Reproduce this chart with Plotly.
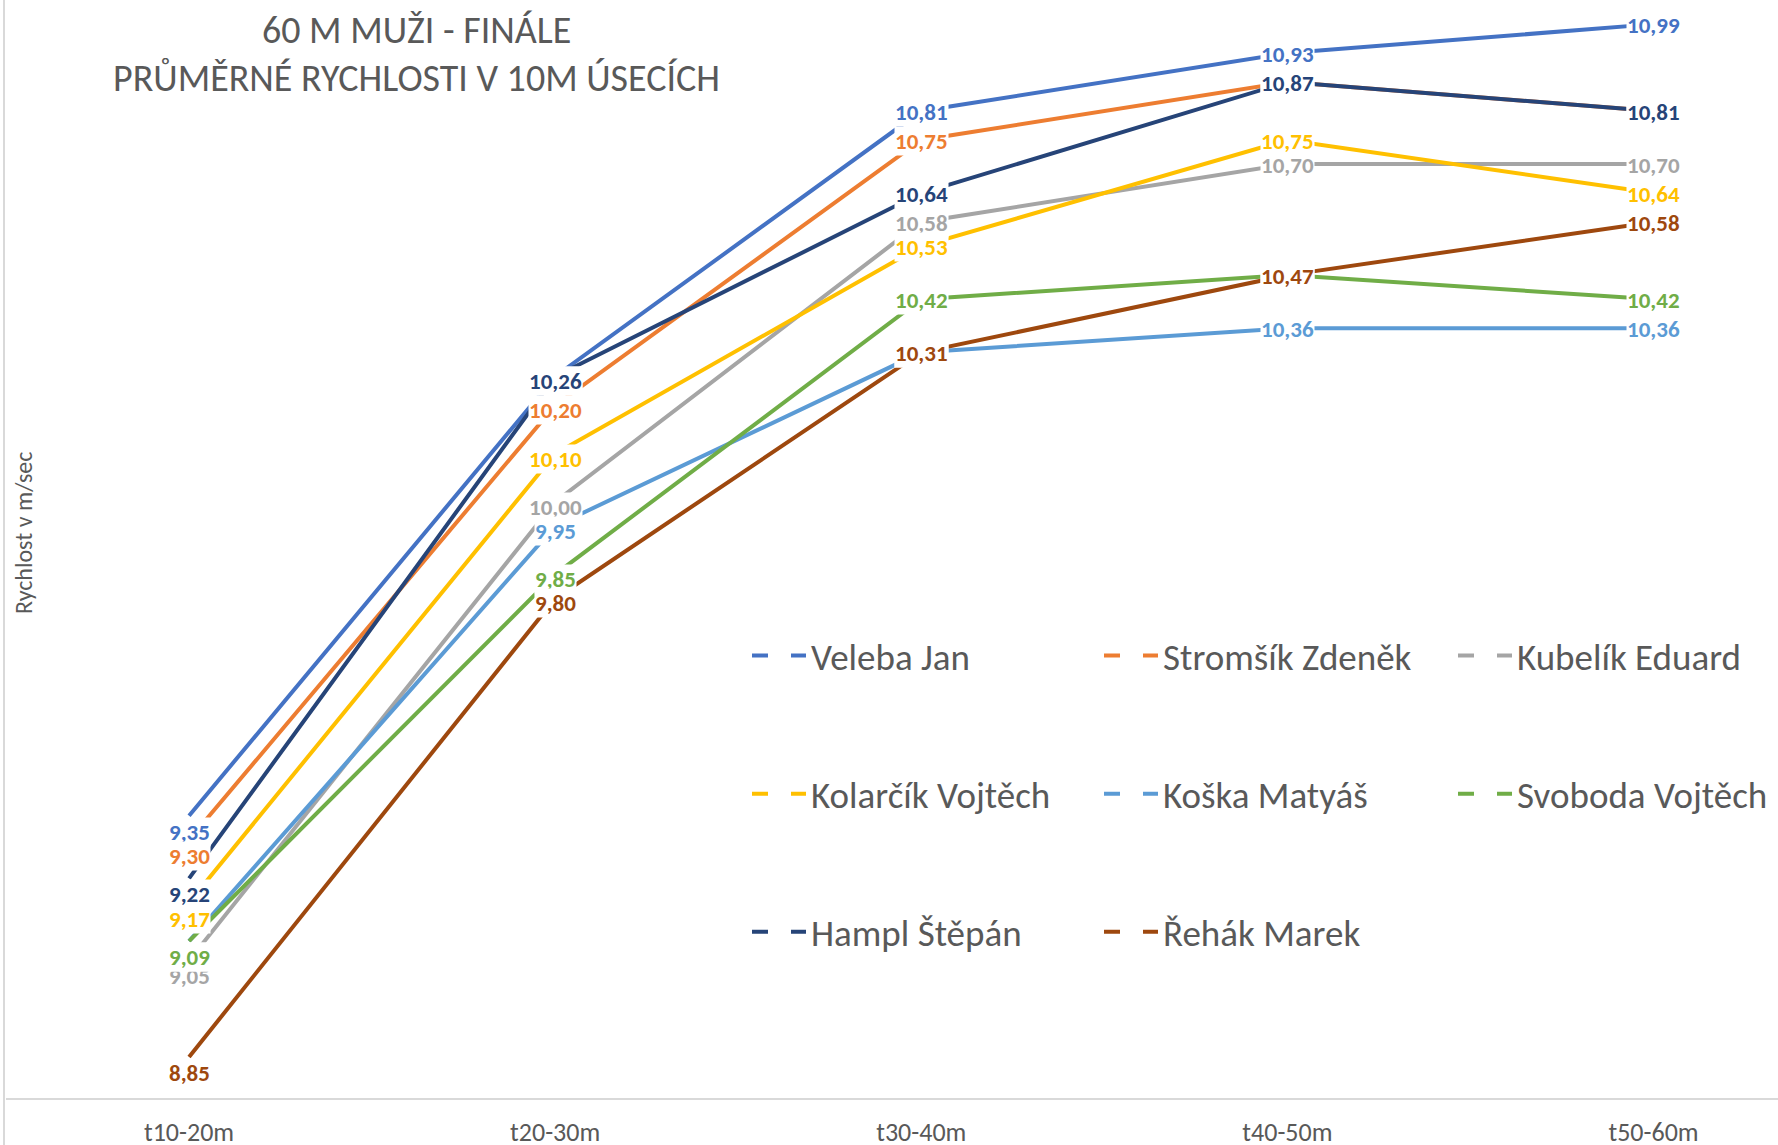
import plotly.graph_objects as go

categories = ["t10-20m", "t20-30m", "t30-40m", "t40-50m", "t50-60m"]

athletes = ["Veleba Jan", "Stromšík Zdeněk", "Kubelík Eduard", "Kolarčík Vojtěch",
            "Koška Matyáš", "Svoboda Vojtěch", "Hampl Štěpán", "Řehák Marek"]

veleba = [9.35, 10.26, 10.81, 10.93, 10.99]
stromsik = [9.30, 10.20, 10.75, 10.87, 10.81]
kubelik = [9.05, 10.00, 10.58, 10.70, 10.70]
kolarcik = [9.17, 10.10, 10.53, 10.75, 10.64]
koska = [9.09, 9.95, 10.31, 10.36, 10.36]
svoboda = [9.09, 9.85, 10.42, 10.47, 10.42]
hampl = [9.22, 10.26, 10.64, 10.87, 10.81]
rehak = [8.85, 9.80, 10.31, 10.47, 10.58]

series = [veleba, stromsik, kubelik, kolarcik, koska, svoboda, hampl, rehak]
colors = ["#4472C4", "#ED7D31", "#A5A5A5", "#FFC000",
          "#5B9BD5", "#70AD47", "#264478", "#9E480E"]

FONT = "Calibri, Carlito, Lato, sans-serif"
GREY = "#595959"

W, H = 1778, 1145
ML, MR, MT, MB = 6, 0, 0, 47
PW = W - ML - MR
PH = H - MT - MB

fig = go.Figure()

for name, vals, col in zip(athletes, series, colors):
    fig.add_trace(go.Scatter(x=categories, y=vals, mode="lines", name=name,
                             line=dict(color=col, width=4), showlegend=False,
                             hoverinfo="skip"))

# legend columns (Excel lays the legend out row by row in 3 columns)
legend_ids = ["legend", "legend2", "legend3", "legend", "legend2", "legend3", "legend", "legend2"]
for k, (name, col, lg) in enumerate(zip(athletes, colors, legend_ids)):
    fig.add_trace(go.Scatter(x=[None], y=[None], mode="lines", name=name,
                             line=dict(color=col, width=4, dash="16px,23px"),
                             legend=lg, legendgroup="g%d" % k, showlegend=True))

label_shift = [-16, -5, -1, -1, -1]
annotations = []
for name, vals, col in zip(athletes, series, colors):
    for i, (c, v) in enumerate(zip(categories, vals)):
        annotations.append(dict(
            x=c, y=v, xref="x", yref="y", text="<b>" + f"{v:.2f}".replace(".", ",") + "</b>",
            showarrow=False, font=dict(family=FONT, size=23, color=col),
            bgcolor="white", borderpad=0, yshift=label_shift[i],
        ))

def py(p):
    return (H - MB - p) / PH

def px(p):
    return (p - ML) / PW

annotations += [
    dict(text="60 M MUŽI - FINÁLE", x=px(416), y=py(30), xref="paper", yref="paper",
         showarrow=False, font=dict(family=FONT, size=38, color=GREY), xanchor="center", yanchor="middle"),
    dict(text="PRŮMĚRNÉ RYCHLOSTI V 10M ÚSECÍCH", x=px(416), y=py(78), xref="paper", yref="paper",
         showarrow=False, font=dict(family=FONT, size=38, color=GREY), xanchor="center", yanchor="middle"),
    dict(text="Rychlost v m/sec", x=px(23), y=py(533), xref="paper", yref="paper", textangle=-90,
         showarrow=False, font=dict(family=FONT, size=24, color=GREY), xanchor="center", yanchor="middle"),
]

legend_common = dict(orientation="v", font=dict(family=FONT, size=37, color=GREY),
                     itemwidth=54, tracegroupgap=87, xanchor="left", yanchor="top",
                     bgcolor="rgba(0,0,0,0)", y=py(625))

fig.update_layout(
    width=W, height=H,
    margin=dict(l=ML, r=MR, t=MT, b=MB, autoexpand=False),
    paper_bgcolor="white", plot_bgcolor="white",
    annotations=annotations,
    legend=dict(**legend_common, x=px(747)),
    legend2=dict(**legend_common, x=px(1099)),
    legend3=dict(**legend_common, x=px(1453)),
    xaxis=dict(range=[-0.5, 4.34], showgrid=False, zeroline=False, showline=True,
               linecolor="#D9D9D9", linewidth=2, ticks="", ticklabelstandoff=10,
               tickfont=dict(family=FONT, size=26, color=GREY)),
    yaxis=dict(range=[8.765, 11.04], showgrid=False, zeroline=False, showticklabels=False,
               showline=False),
    shapes=[dict(type="line", xref="paper", yref="paper", x0=px(4), x1=px(4), y0=py(H), y1=1,
                 line=dict(color="#D9D9D9", width=2))],
    showlegend=True,
)

fig.write_html("out.html", config={"displayModeBar": False},
               post_script="document.body.style.margin='0';document.body.style.overflow='hidden';")
